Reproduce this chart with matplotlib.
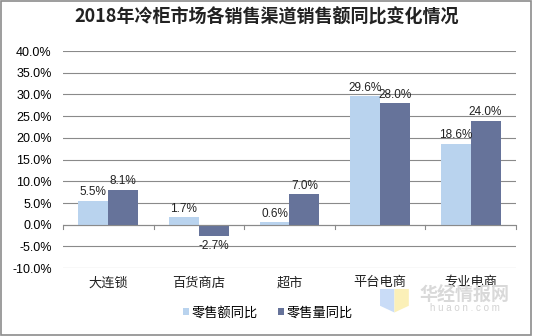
import matplotlib.pyplot as plt
import numpy as np
from matplotlib.patches import Rectangle, Polygon

plt.rcParams['font.family'] = ['Liberation Sans', 'Noto Sans CJK SC', 'DejaVu Sans']

# 各销售渠道及同比数据（%）
channels = ["大连锁", "百货商店", "超市", "平台电商", "专业电商"]
sales_yoy = [5.5, 1.7, 0.6, 29.6, 18.6]
volume_yoy = [8.1, -2.7, 7.0, 28.0, 24.0]
series_names = ["零售额同比", "零售量同比"]
colors = ["#B9D3EE", "#66739A"]

fig = plt.figure(figsize=(5.33, 3.36), dpi=100)
fig.patches.append(Rectangle((0.002, 0.003), 0.994, 0.993, transform=fig.transFigure,
                             fill=False, edgecolor="#8c8c8c", linewidth=1.2))

ax = fig.add_axes([0.118, 0.202, 0.85, 0.646])
x = np.arange(len(channels))
w = 0.33
bars1 = ax.bar(x - w / 2, sales_yoy, w, color=colors[0], label=series_names[0], zorder=3)
bars2 = ax.bar(x + w / 2, volume_yoy, w, color=colors[1], label=series_names[1], zorder=3)

for bars, vals in ((bars1, sales_yoy), (bars2, volume_yoy)):
    for b, v in zip(bars, vals):
        if v >= 0:
            ax.text(b.get_x() + b.get_width() / 2, v + 0.6, f"{v:.1f}%",
                    ha="center", va="bottom", fontsize=8.5, color="#222222")
        else:
            ax.text(b.get_x() + b.get_width() / 2, v - 0.9, f"{v:.1f}%",
                    ha="center", va="top", fontsize=8.5, color="#222222")

ax.set_ylim(-10, 40)
ax.set_xlim(-0.5, len(channels) - 0.5)
yt = np.arange(-10, 41, 5)
ax.set_yticks(yt)
ax.set_yticklabels([f"{t:.1f}%" for t in yt], fontsize=9)
ax.yaxis.grid(True, color="#8a8a8a", linewidth=0.8, zorder=0)
ax.tick_params(axis="y", length=0, pad=8)

# 类别刻度放在零线上，标签放在底部
ax.set_xticks([])
ax.axhline(0, color="#8a8a8a", linewidth=0.8, zorder=4)
for b in np.arange(-0.5, len(channels), 1):
    ax.plot([b, b], [0, -0.9], color="#8a8a8a", linewidth=0.8, clip_on=False, zorder=4)
for i, c in enumerate(channels):
    ax.text(i, -13.4, c, ha="center", va="center", fontsize=9.5, color="#222222",
            family=['Noto Sans CJK SC'])

for s in ax.spines.values():
    s.set_visible(False)

fig.text(0.5, 0.948, "2018年冷柜市场各销售渠道销售额同比变化情况", ha="center", va="center",
         fontsize=13, fontweight="bold", color="#222222", family=['Noto Sans CJK SC'])

leg = fig.legend(handles=[bars1, bars2], labels=series_names, loc="center",
                 bbox_to_anchor=(0.503, 0.068), ncol=2, frameon=False,
                 prop={"family": "Noto Sans CJK SC", "size": 9.5},
                 handlelength=0.45, handleheight=0.45, handletextpad=0.2, columnspacing=1.5)

# 水印
fig.patches.append(Polygon([(0.713, 0.14), (0.740, 0.14), (0.740, 0.07), (0.713, 0.09)],
                           closed=True, transform=fig.transFigure,
                           facecolor="#c9dcf7", edgecolor="none"))
fig.patches.append(Polygon([(0.740, 0.14), (0.767, 0.14), (0.767, 0.09), (0.740, 0.07)],
                           closed=True, transform=fig.transFigure,
                           facecolor="#fbf0b8", edgecolor="none"))
fig.text(0.872, 0.122, "华经情报网", ha="center", va="center", fontsize=13,
         fontweight="bold", color="#d9d9d9", family=['Noto Sans CJK SC'])
fig.text(0.872, 0.083, "h u a o n . c o m", ha="center", va="center", fontsize=7,
         color="#d3d3d3")

fig.savefig("out.png", dpi=100)
